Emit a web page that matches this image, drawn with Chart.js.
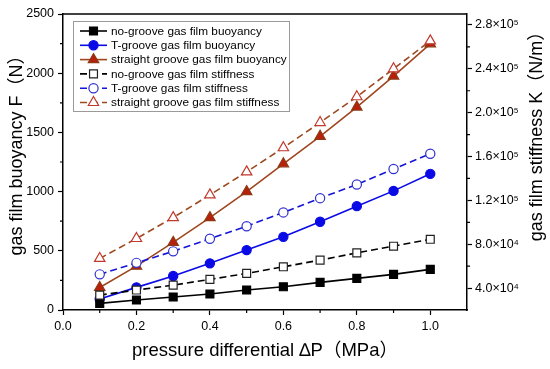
<!DOCTYPE html>
<html><head><meta charset="utf-8">
<script src="https://cdn.jsdelivr.net/npm/chart.js@4"></script>
<style>html,body{margin:0;padding:0;background:#fff}canvas{display:block}</style>
</head><body>
<canvas id="c" width="550" height="369"></canvas>
<script>
const pressure = [0.1, 0.2, 0.3, 0.4, 0.5, 0.6, 0.7, 0.8, 0.9, 1.0];
const noGrooveBuoyancy = [56, 84, 110, 135, 169, 196, 233, 267, 301, 343];
const tGrooveBuoyancy = [93, 191, 287, 394, 506, 618, 745, 877, 1006, 1150];
const straightGrooveBuoyancy = [190, 370, 571, 780, 1000, 1235, 1467, 1714, 1976, 2248];
const noGrooveStiffness = [33600, 38200, 42700, 47900, 53400, 59400, 65500, 72100, 78200, 84500];
const tGrooveStiffness = [52500, 63000, 73500, 85000, 96400, 109000, 122000, 134500, 148600, 162500];
const straightGrooveStiffness = [67000, 85200, 104300, 125000, 146000, 168000, 191000, 214500, 240000, 265500];

const seriesLabels = [
  'no-groove gas film buoyancy',
  'T-groove gas film buoyancy',
  'straight groove gas film buoyancy',
  'no-groove gas film stiffness',
  'T-groove gas film stiffness',
  'straight groove gas film stiffness'
];
const xTicks = [0, 0.2, 0.4, 0.6, 0.8, 1.0];
const xMinorTicks = [0.1, 0.3, 0.5, 0.7, 0.9];
const buoyancyTicks = [0, 500, 1000, 1500, 2000, 2500];
const buoyancyMinorTicks = [250, 750, 1250, 1750, 2250];
const stiffnessTicks = [40000, 80000, 120000, 160000, 200000, 240000, 280000];
const stiffnessMinorTicks = [60000, 100000, 140000, 180000, 220000, 260000];
const xTitle = 'pressure differential ∆P（MPa）';
const yTitle = 'gas film buoyancy F（N）';
const y1Title = 'gas film stiffness K（N/m）';

const FONT = "'Liberation Sans', Arial, 'Noto Sans CJK SC', sans-serif";
const SUP = {'0':'⁰','1':'¹','2':'²','3':'³','4':'⁴','5':'⁵','6':'⁶','7':'⁷','8':'⁸','9':'⁹'};
function sci(v){
  const e = Math.floor(Math.log10(v) + 1e-9);
  const m = v / Math.pow(10, e);
  return m.toFixed(1) + '×10' + String(e).split('').map(c => SUP[c]).join('');
}
function pts(arr){ return pressure.map((p, i) => ({x: p, y: arr[i]})); }

function mk(label, data, axis, line, dash, style, radius, fill, stroke, order){
  return {
    label, data: pts(data), yAxisID: axis,
    borderColor: line, borderWidth: 1.6, borderDash: dash,
    pointStyle: style, pointRadius: radius, pointHoverRadius: radius,
    pointBackgroundColor: fill, pointBorderColor: stroke, pointBorderWidth: 1.2,
    tension: 0, fill: false, order
  };
}

const datasets = [
  mk(seriesLabels[0], noGrooveBuoyancy, 'y', '#000000', [], 'rect', 5.6, '#000000', '#000000', 1),
  mk(seriesLabels[1], tGrooveBuoyancy, 'y', '#0a0ae6', [], 'circle', 4.6, '#0a0ae6', '#0a0ae6', 1),
  mk(seriesLabels[2], straightGrooveBuoyancy, 'y', '#a0461e', [], 'triangle', 6, '#b8200c', '#8c3a14', 1),
  mk(seriesLabels[3], noGrooveStiffness, 'y1', '#000000', [7, 4], 'rect', 5.6, '#ffffff', '#222222', 0),
  mk(seriesLabels[4], tGrooveStiffness, 'y1', '#1414d8', [7, 4], 'circle', 4.6, '#ffffff', '#3030d0', 0),
  mk(seriesLabels[5], straightGrooveStiffness, 'y1', '#9c4a20', [7, 4], 'triangle', 6, '#ffffff', '#c0392b', 0)
];

function drawMarker(ctx, style, r, x, y){
  ctx.beginPath();
  if (style === 'rect') { const s = Math.SQRT1_2 * r; ctx.rect(x - s, y - s, 2 * s, 2 * s); }
  else if (style === 'circle') { ctx.arc(x, y, r, 0, Math.PI * 2); }
  else { const a = 2 * Math.PI / 3; let rad = 0;
    ctx.moveTo(x + Math.sin(rad) * r, y - Math.cos(rad) * r); rad += a;
    ctx.lineTo(x + Math.sin(rad) * r, y - Math.cos(rad) * r); rad += a;
    ctx.lineTo(x + Math.sin(rad) * r, y - Math.cos(rad) * r); ctx.closePath(); }
  ctx.fill(); ctx.stroke();
}

const framePlugin = {
  id: 'frame',
  afterDraw(chart){
    const ctx = chart.ctx, a = chart.chartArea;
    const sx = chart.scales.x, sy = chart.scales.y, sy1 = chart.scales.y1;
    ctx.save();
    ctx.strokeStyle = '#000'; ctx.lineWidth = 1.5;
    ctx.beginPath(); ctx.moveTo(a.left, a.top); ctx.lineTo(a.right, a.top); ctx.stroke();
    ctx.lineWidth = 1.2;
    ctx.beginPath();
    xMinorTicks.forEach(v => { const p = sx.getPixelForValue(v); ctx.moveTo(p, a.bottom); ctx.lineTo(p, a.bottom + 3); });
    buoyancyMinorTicks.forEach(v => { const p = sy.getPixelForValue(v); ctx.moveTo(a.left, p); ctx.lineTo(a.left - 3, p); });
    stiffnessMinorTicks.forEach(v => { const p = sy1.getPixelForValue(v); ctx.moveTo(a.right, p); ctx.lineTo(a.right + 3, p); });
    ctx.stroke();

    // y-axis titles
    ctx.fillStyle = '#000'; ctx.font = '18px ' + FONT; ctx.textAlign = 'center'; ctx.textBaseline = 'middle';
    ctx.save(); ctx.translate(17, 151); ctx.rotate(-Math.PI / 2); ctx.fillText(yTitle, 0, 0); ctx.restore();
    ctx.save(); ctx.translate(537, 132); ctx.rotate(-Math.PI / 2); ctx.fillText(y1Title, 0, 0); ctx.restore();

    // legend
    const lx = 73, ly = 21, lw = 216, lh = 90;
    ctx.fillStyle = '#fff'; ctx.fillRect(lx, ly, lw, lh);
    ctx.strokeStyle = '#9a9a9a'; ctx.lineWidth = 1; ctx.strokeRect(lx + 0.5, ly + 0.5, lw, lh);
    ctx.font = '11.8px ' + FONT; ctx.textAlign = 'left'; ctx.textBaseline = 'middle';
    chart.data.datasets.forEach((d, i) => {
      const y = 31 + i * 14.3;
      ctx.strokeStyle = d.borderColor; ctx.lineWidth = d.borderWidth; ctx.setLineDash(d.borderDash || []);
      ctx.beginPath(); ctx.moveTo(80, y); ctx.lineTo(107, y); ctx.stroke();
      ctx.setLineDash([]);
      ctx.fillStyle = d.pointBackgroundColor; ctx.strokeStyle = d.pointBorderColor; ctx.lineWidth = d.pointBorderWidth;
      drawMarker(ctx, d.pointStyle, d.pointRadius, 93.5, y);
      ctx.fillStyle = '#000';
      ctx.fillText(d.label, 111, y + 0.5);
    });
    ctx.restore();
  }
};

new Chart(document.getElementById('c'), {
  type: 'line',
  data: { datasets },
  options: {
    responsive: false, animation: false, devicePixelRatio: 1,
    layout: { padding: { top: 14, left: 0, right: 0, bottom: 0 } },
    plugins: { legend: { display: false }, tooltip: { enabled: false } },
    scales: {
      x: {
        type: 'linear', position: 'bottom', min: 0, max: 1.1,
        afterBuildTicks: s => { s.ticks = xTicks.map(v => ({ value: v })); },
        afterFit: s => { s.height = 59; },
        ticks: { callback: v => Number(v).toFixed(1), font: { family: FONT, size: 12.5 }, color: '#000', padding: 4, maxRotation: 0, autoSkip: false },
        grid: { drawOnChartArea: false, tickLength: 5, tickColor: '#000', tickWidth: 1.2 },
        border: { color: '#000', width: 1.5 },
        title: { display: true, text: xTitle, font: { family: FONT, size: 18.5 }, color: '#000', padding: { top: 0, bottom: 7 } }
      },
      y: {
        type: 'linear', position: 'left', min: 0, max: 2500,
        afterBuildTicks: s => { s.ticks = buoyancyTicks.map(v => ({ value: v })); },
        afterFit: s => { s.width = 63; },
        ticks: { callback: v => String(v), font: { family: FONT, size: 12.5 }, color: '#000', padding: 4 },
        grid: { drawOnChartArea: false, tickLength: 5, tickColor: '#000', tickWidth: 1.2 },
        border: { color: '#000', width: 1.5 }
      },
      y1: {
        type: 'linear', position: 'right', min: 20000, max: 290000,
        afterBuildTicks: s => { s.ticks = stiffnessTicks.map(v => ({ value: v })); },
        afterFit: s => { s.width = 83; },
        ticks: { callback: v => sci(v), font: { family: FONT, size: 12.5 }, color: '#000', padding: 3 },
        grid: { drawOnChartArea: false, tickLength: 5, tickColor: '#000', tickWidth: 1.2 },
        border: { color: '#000', width: 1.5 }
      }
    }
  },
  plugins: [framePlugin]
});
</script>
</body></html>
